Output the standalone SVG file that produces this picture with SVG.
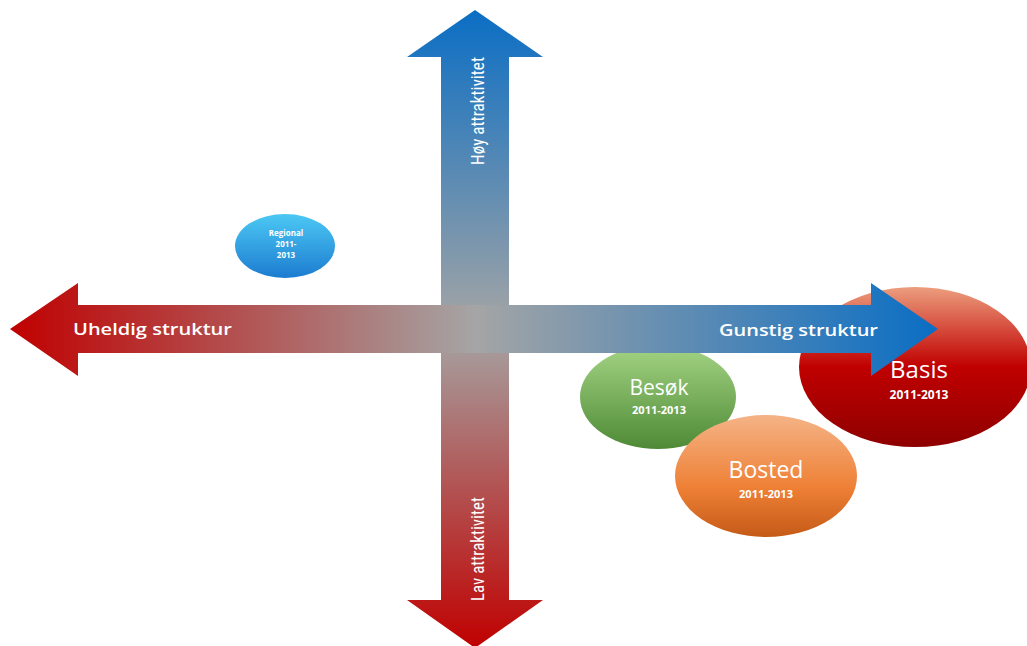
<svg xmlns="http://www.w3.org/2000/svg" width="1027" height="646" viewBox="0 0 1027 646">
<style>
.lbl{font-family:"Open Sans","Liberation Sans",sans-serif;font-weight:600;fill:#fff;}
.big{font-family:"Open Sans","Liberation Sans",sans-serif;font-weight:400;fill:#fff;}
.yr{font-family:"Open Sans","Liberation Sans",sans-serif;font-weight:700;fill:#fff;}
.vlbl{font-family:"Liberation Sans Narrow","Roboto Condensed","Liberation Sans",sans-serif;font-weight:400;fill:#fff;}
</style>
<defs>
<linearGradient id="gH" x1="0" y1="0" x2="1" y2="0">
<stop offset="0" stop-color="#C00000"/>
<stop offset="0.5" stop-color="#A5A5A5"/>
<stop offset="1" stop-color="#0A6EC4"/>
</linearGradient>
<linearGradient id="gV" x1="0" y1="0" x2="0" y2="1">
<stop offset="0" stop-color="#0A6EC4"/>
<stop offset="0.5" stop-color="#A5A5A5"/>
<stop offset="1" stop-color="#C00000"/>
</linearGradient>
<linearGradient id="gReg" x1="0" y1="0" x2="0" y2="1">
<stop offset="0" stop-color="#4CC8F4"/>
<stop offset="1" stop-color="#1C7CD0"/>
</linearGradient>
<linearGradient id="gBes" x1="0" y1="0" x2="0" y2="1">
<stop offset="0" stop-color="#A4D484"/>
<stop offset="1" stop-color="#4E8A36"/>
</linearGradient>
<linearGradient id="gBos" x1="0" y1="0" x2="0" y2="1">
<stop offset="0" stop-color="#F5B386"/>
<stop offset="0.6" stop-color="#EE8035"/>
<stop offset="1" stop-color="#C55A18"/>
</linearGradient>
<linearGradient id="gBas" x1="0" y1="0" x2="0" y2="1">
<stop offset="0" stop-color="#EC9E7E"/>
<stop offset="0.5" stop-color="#C00000"/>
<stop offset="1" stop-color="#8E0000"/>
</linearGradient>
</defs>
<rect width="1027" height="646" fill="#fff"/>

<g id="basis">
<ellipse cx="915" cy="367" rx="116" ry="80" fill="url(#gBas)"/>
<text class="big" x="919" y="378" font-size="24" text-anchor="middle">Basis</text>
<text class="yr" x="919" y="399" font-size="12" text-anchor="middle">2011-2013</text>
</g>
<g id="besok">
<ellipse cx="658" cy="397" rx="78" ry="52" fill="url(#gBes)"/>
<text class="big" x="659" y="395" font-size="21" text-anchor="middle">Besøk</text>
<text class="yr" x="659" y="414" font-size="11" text-anchor="middle">2011-2013</text>
</g>
<g id="bosted">
<ellipse cx="766" cy="476" rx="91" ry="61" fill="url(#gBos)"/>
<text class="big" x="766" y="478" font-size="23" text-anchor="middle">Bosted</text>
<text class="yr" x="766" y="498" font-size="11" text-anchor="middle">2011-2013</text>
</g>
<g id="regional">
<ellipse cx="285" cy="246" rx="50" ry="32" fill="url(#gReg)"/>
<text class="yr" x="286" y="236" font-size="8" text-anchor="middle">Regional</text>
<text class="yr" x="286" y="247" font-size="8" text-anchor="middle">2011-</text>
<text class="yr" x="286" y="258" font-size="8" text-anchor="middle">2013</text>
</g>

<g id="connectors">
<g id="axis-vertical">
<polygon points="475,10 543,57 509,57 509,600 543,600 475,648 407,600 441,600 441,57 407,57" fill="url(#gV)"/>
<text class="vlbl" transform="translate(484,111) rotate(-90)" font-size="18" text-anchor="middle" textLength="108" lengthAdjust="spacingAndGlyphs">Høy attraktivitet</text>
<text class="vlbl" transform="translate(484,549) rotate(-90)" font-size="18" text-anchor="middle" textLength="104" lengthAdjust="spacingAndGlyphs">Lav attraktivitet</text>
</g>
<g id="axis-horizontal">
<polygon points="10,329 78,283 78,305 871,305 871,283 938,329 871,376 871,353 78,353 78,376" fill="url(#gH)"/>
<text class="lbl" x="73" y="335" font-size="17" textLength="159" lengthAdjust="spacingAndGlyphs">Uheldig struktur</text>
<text class="lbl" x="719" y="336" font-size="17" textLength="159" lengthAdjust="spacingAndGlyphs">Gunstig struktur</text>
</g>
</g>
</svg>
